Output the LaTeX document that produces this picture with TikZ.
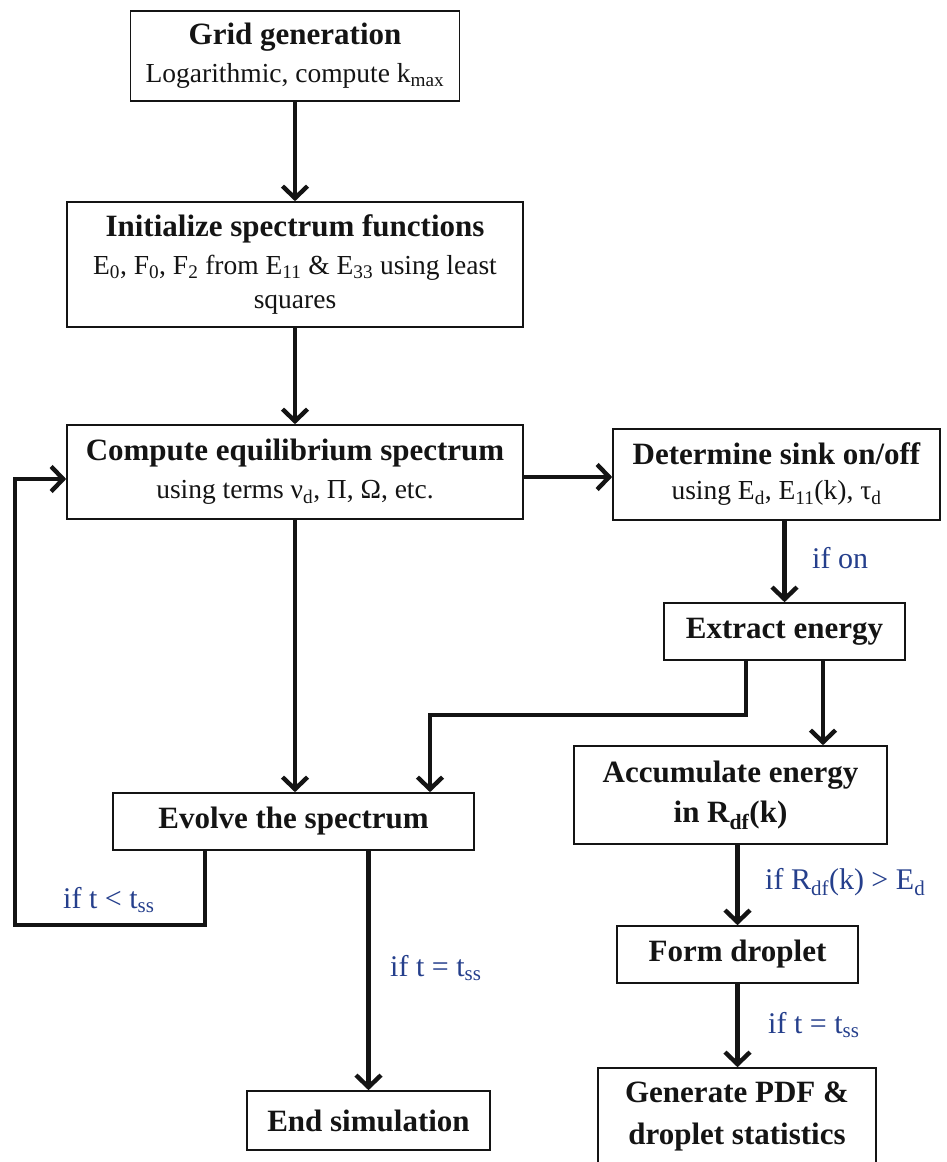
\documentclass[tikz,border=0pt]{standalone}
\usepackage{fontspec}
\setmainfont{Liberation Serif}
\usetikzlibrary{arrows.meta, positioning}
\definecolor{ink}{HTML}{141414}
\definecolor{cnote}{HTML}{253F8C}
\newcommand{\stg}[1]{{\fontsize{31}{36}\selectfont\bfseries #1}}
\tikzset{stage/.style={draw=ink, line width=1.6pt, inner sep=0pt, align=center, text=ink, font=\fontsize{27.5}{38}\selectfont},
  flow/.style={ink, line width=4.4pt, -{Straight Barb[length=12pt, width=25pt, line width=4.4pt]}},
  cond/.style={cnote, inner sep=0pt, anchor=west, font=\fontsize{30}{36}\selectfont}}

\begin{document}
\begin{tikzpicture}[x=1pt, y=-1pt]
  \useasboundingbox (0,0) rectangle (947,1162);
  \node[stage, minimum width=329pt, minimum height=90pt] (grid) at (295,56) {\stg{Grid generation}\\Logarithmic, compute k\textsubscript{max}};
  \node[stage, minimum width=456pt, minimum height=125pt] (init) at (295,264.5) {\stg{Initialize spectrum functions}\\E\textsubscript{0}, F\textsubscript{0}, F\textsubscript{2} from E\textsubscript{11} \& E\textsubscript{33} using least\\[-4pt]squares};
  \node[stage, minimum width=456pt, minimum height=94pt] (equil) at (295,472) {\stg{Compute equilibrium spectrum}\\using terms ν\textsubscript{d}, Π, Ω, etc.};
  \node[stage, minimum width=327pt, minimum height=91pt] (sink) at (776.5,474.5) {\stg{Determine sink on/off}\\[-3pt]using E\textsubscript{d}, E\textsubscript{11}(k), τ\textsubscript{d}};
  \node[stage, minimum width=241pt, minimum height=57pt] (extract) at (784.5,631.5) {\stg{Extract energy}};
  \node[stage, minimum width=361pt, minimum height=57pt] (evolve) at (293.5,821.5) {\stg{Evolve the spectrum}};
  \node[stage, minimum width=243pt, minimum height=59pt] (endsim) at (368.5,1120.5) {\stg{End simulation}};
  \node[stage, minimum width=313pt, minimum height=98pt] (accum) at (730.5,795) {\stg{Accumulate energy}\\[2pt]\stg{in R\textsubscript{df}(k)}};
  \node[stage, minimum width=241pt, minimum height=57pt] (droplet) at (737.5,954.5) {\stg{Form droplet}};
  \node[stage, minimum width=278pt, minimum height=96pt] (generate) at (737,1116) {\stg{Generate PDF \&}\\[4pt]\stg{droplet statistics}};

  \node[cond] (ifon) at (812,558) {if on};
  \node[cond] (iflow) at (63,900) {if t < t\textsubscript{ss}};
  \node[cond] (ifdone) at (390,968) {if t = t\textsubscript{ss}};
  \node[cond] (ifrdf) at (765,882) {if R\textsubscript{df}(k) > E\textsubscript{d}};
  \node[cond] (ifstat) at (768,1025) {if t = t\textsubscript{ss}};

  \coordinate (bend) at (430,715);
  \coordinate (loop) at (15,925);

  \draw[flow] (grid.south) -- (init.north);
  \draw[flow] (init.south) -- (equil.north);
  \draw[flow] ([yshift=-5pt]equil.east) -- ([yshift=-5pt]equil.east -| sink.west);
  \draw[flow] (sink.south -| extract.north) -- (extract.north);
  \draw[flow] ([xshift=-38.5pt]extract.south) |- (bend) -- (bend |- evolve.north);
  \draw[flow] ([xshift=38.5pt]extract.south) -- ([xshift=38.5pt]extract.south |- accum.north);
  \draw[flow] (equil.south) -- (equil.south |- evolve.north);
  \draw[flow] ([xshift=-88.5pt]evolve.south) |- (loop) |- ([yshift=-7pt]equil.west);
  \draw[flow] (endsim.north |- evolve.south) -- (endsim.north);
  \draw[flow] (droplet.north |- accum.south) -- (droplet.north);
  \draw[flow] (droplet.south) -- (droplet.south |- generate.north);
\end{tikzpicture}
\end{document}
